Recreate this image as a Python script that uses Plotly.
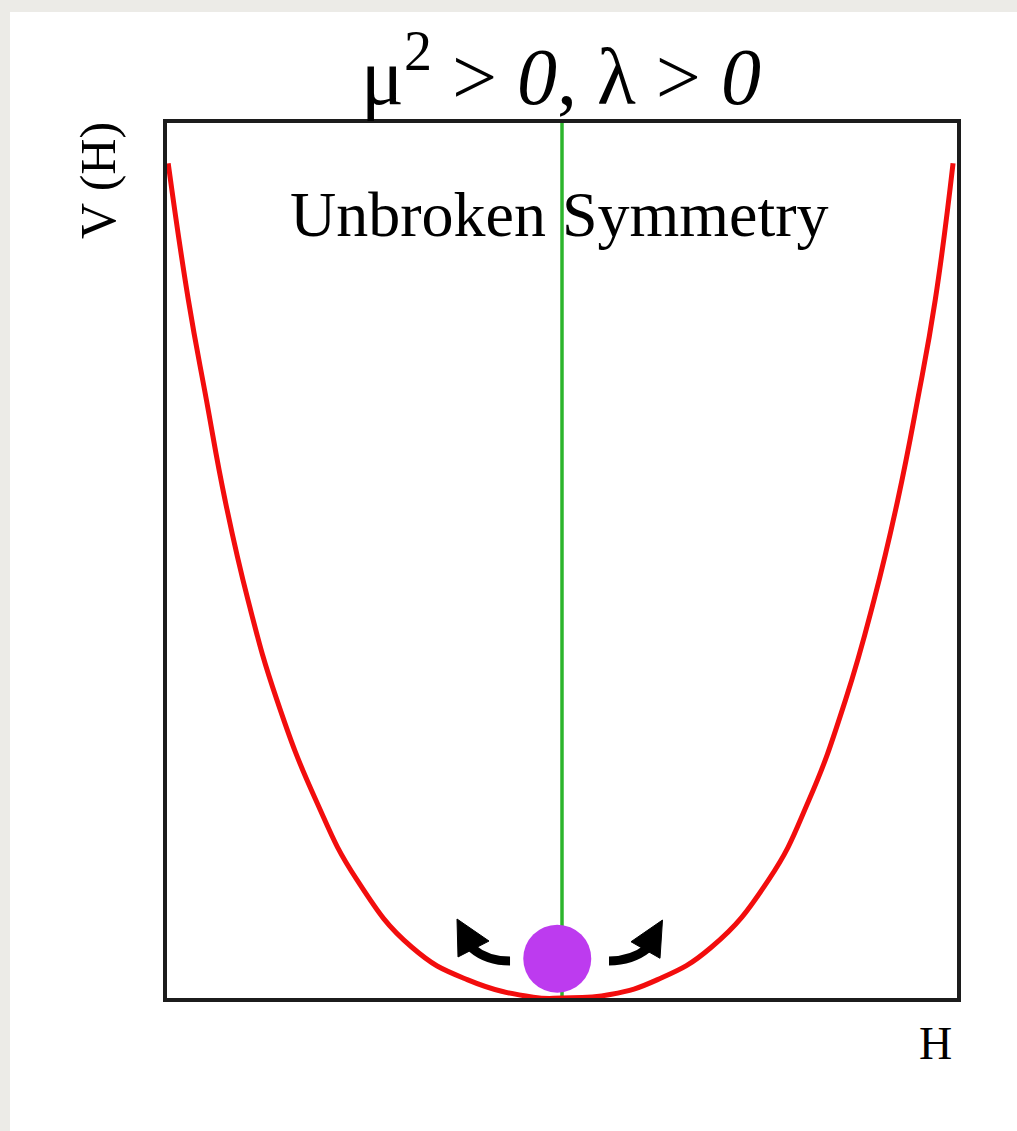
import plotly.graph_objects as go

# ---- data (H in [-1,1], V in [0,1]) ----
H_vals = [-0.997, -0.946, -0.900, -0.853, -0.795, -0.722, -0.623, -0.519, -0.380, -0.240,
          -0.073, 0.0, 0.122, 0.242, 0.378, 0.523, 0.625, 0.718, 0.790, 0.850, 0.900, 0.945, 0.990]
V_vals = [0.954, 0.798, 0.683, 0.569, 0.455, 0.341, 0.226, 0.135, 0.058, 0.021,
          0.001, 0.0, 0.004, 0.021, 0.058, 0.135, 0.226, 0.341, 0.455, 0.569, 0.683, 0.798, 0.954]

axis_H = [0, 0]
axis_V = [0, 1]

ball_H = [-0.012]
ball_V = [0.045]

title_text = "μ<sup>2</sup> > <i>0</i>, λ > <i>0</i>"
inner_text = "Unbroken Symmetry"
ylabel_text = "V (H)"
xlabel_text = "H"

W, Hh = 1017, 1131
L, R, T, B = 167, 60, 123, 133
pw, ph = W - L - R, Hh - T - B


def px(x):
    return (x - L) / pw


def py(y):
    return (Hh - B - y) / ph


SERIF = "Liberation Serif, Times New Roman, serif"

fig = go.Figure()
fig.add_trace(go.Scatter(x=axis_H, y=axis_V, mode="lines",
                         line=dict(color="#2cb52c", width=3.5), hoverinfo="skip"))
fig.add_trace(go.Scatter(x=H_vals, y=V_vals, mode="lines", line_shape="spline",
                         line=dict(color="#f20d0d", width=5, smoothing=1.3), hoverinfo="skip"))
fig.add_trace(go.Scatter(x=ball_H, y=ball_V, mode="markers",
                         marker=dict(size=68, color="#bd3bef", line=dict(width=0)),
                         hoverinfo="skip"))

shapes = [
    # page background panel
    dict(type="rect", xref="paper", yref="paper", x0=px(10), x1=px(1030),
         y0=py(1140), y1=py(12), fillcolor="white", line=dict(width=0), layer="below"),
    # left arrow shaft + head
    dict(type="path", xref="x", yref="y",
         path="M -0.1316,0.0423 Q -0.19,0.0423 -0.228,0.0571",
         line=dict(color="black", width=9)),
    dict(type="path", xref="x", yref="y",
         path="M -0.2658,0.0903 L -0.2633,0.0469 L -0.1848,0.0651 Z",
         fillcolor="black", line=dict(color="black", width=1)),
    # right arrow shaft + head
    dict(type="path", xref="x", yref="y",
         path="M 0.119,0.0423 Q 0.177,0.0423 0.2177,0.0571",
         line=dict(color="black", width=9)),
    dict(type="path", xref="x", yref="y",
         path="M 0.2544,0.0891 L 0.1747,0.0643 L 0.2481,0.0454 Z",
         fillcolor="black", line=dict(color="black", width=1)),
]

annotations = [
    dict(text=title_text, xref="paper", yref="paper", x=px(561), y=py(70),
         xanchor="center", yanchor="middle", showarrow=False,
         font=dict(family=SERIF, size=80, color="black")),
    dict(text=inner_text, xref="paper", yref="paper", x=px(559), y=py(214),
         xanchor="center", yanchor="middle", showarrow=False,
         font=dict(family=SERIF, size=64, color="black")),
    dict(text=ylabel_text, xref="paper", yref="paper", x=px(98), y=py(181),
         xanchor="center", yanchor="middle", showarrow=False, textangle=-90,
         font=dict(family=SERIF, size=50, color="black")),
    dict(text=xlabel_text, xref="paper", yref="paper", x=px(935), y=py(1043),
         xanchor="center", yanchor="middle", showarrow=False,
         font=dict(family=SERIF, size=46, color="black")),
]

fig.update_layout(
    width=W, height=Hh,
    margin=dict(l=L, r=R, t=T, b=B, pad=0),
    paper_bgcolor="#ecebe7", plot_bgcolor="white",
    showlegend=False,
    shapes=shapes, annotations=annotations,
    xaxis=dict(range=[-1, 1], showgrid=False, zeroline=False, showticklabels=False,
               ticks="", showline=True, mirror=True, linecolor="#1c1c1c", linewidth=4,
               fixedrange=True),
    yaxis=dict(range=[0, 1], showgrid=False, zeroline=False, showticklabels=False,
               ticks="", showline=True, mirror=True, linecolor="#1c1c1c", linewidth=4,
               fixedrange=True),
)

fig.write_html("out.html", config=dict(displayModeBar=False),
               post_script="document.body.style.margin='0';document.body.style.overflow='hidden';")
